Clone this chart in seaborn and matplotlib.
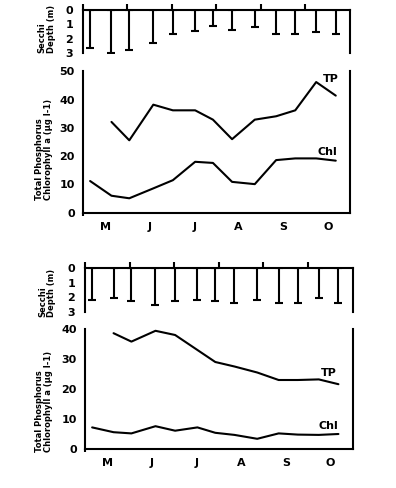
import numpy as np
import pandas as pd
import matplotlib
matplotlib.use("Agg")
import matplotlib.pyplot as plt
import seaborn as sns

# ---------------- data ----------------
months = ["M", "J", "J", "A", "S", "O"]
# sampling dates expressed in months since 1 May
sample_month = [0.16, 0.64, 1.04, 1.58, 2.02, 2.52, 2.92, 3.35, 3.86, 4.34, 4.77, 5.24, 5.68]

# upper lake
secchi_1 = [2.67, 3.00, 2.79, 2.28, 1.70, 1.44, 1.12, 1.40, 1.16, 1.65, 1.70, 1.56, 1.70]
tp_1 = [32.1, 25.6, 38.2, 36.2, 36.2, 32.9, 26.0, 32.9, 34.1, 36.2, 46.2, 41.4]  # from 2nd sample
chl_1 = [11.2, 6.0, 5.1, 8.6, 11.5, 18.0, 17.6, 10.9, 10.1, 18.6, 19.2, 19.2, 18.4]

# lower lake
secchi_2 = [2.17, 2.01, 2.24, 2.51, 2.24, 2.17, 2.24, 2.39, 2.17, 2.39, 2.35, 2.06, 2.39]
tp_2 = [38.6, 35.8, 39.4, 38.0, 33.0, 29.0, 27.5, 25.5, 23.0, 23.0, 23.2, 21.6]  # from 2nd sample
chl_2 = [7.2, 5.6, 5.2, 7.6, 6.1, 7.2, 5.4, 4.7, 3.4, 5.2, 4.8, 4.7, 5.0]

secchi_ticks = [0, 1, 2, 3]
yticks_1 = [0, 10, 20, 30, 40, 50]
yticks_2 = [0, 10, 20, 30, 40]

# ---------------- style ----------------
sns.set_theme(style="ticks")
plt.rcParams["font.family"] = ["DejaVu Sans"]
plt.rcParams["font.weight"] = "bold"
plt.rcParams["axes.linewidth"] = 1.5
plt.rcParams["axes.edgecolor"] = "black"
plt.rcParams["text.color"] = "black"
plt.rcParams["axes.labelcolor"] = "black"
plt.rcParams["xtick.color"] = "black"
plt.rcParams["ytick.color"] = "black"

W, H = 396, 488
fig = plt.figure(figsize=(W / 100, H / 100), dpi=100)
fig.patch.set_facecolor("white")

LW = 1.5
TICKFS = 8
LABFS = 6


def frac_rect(x0, x1, ytop, ybot):
    return [x0 / W, 1 - ybot / H, (x1 - x0) / W, (ybot - ytop) / H]


def panel(rect_s, rect_m, secchi, tp, chl, yticks, tp_pos, chl_pos,
          lab_x, lab_s_y, lab_m_y):
    n = len(sample_month)
    # ---- Secchi panel ----
    axs = fig.add_axes(rect_s)
    axs.errorbar(sample_month, np.zeros(n), yerr=[np.zeros(n), secchi],
                 fmt="none", ecolor="black", elinewidth=LW, capsize=2.8,
                 capthick=LW)
    axs.set_xlim(0, 6)
    axs.set_ylim(3, 0)
    axs.set_facecolor("white")
    axs.spines["bottom"].set_visible(False)
    for s in ("top", "left", "right"):
        axs.spines[s].set_visible(True)
        axs.spines[s].set_linewidth(LW)
        axs.spines[s].set_color("black")
    axs.xaxis.set_ticks_position("top")
    axs.set_xticks([0, 1, 2, 3, 4, 5])
    axs.tick_params(axis="x", which="major", direction="out", length=4.5,
                    width=LW, labeltop=False, labelbottom=False, top=True,
                    bottom=False, color="black")
    axs.set_yticks(secchi_ticks)
    axs.set_yticklabels([str(v) for v in secchi_ticks], fontsize=TICKFS,
                        fontweight="bold", color="black")
    axs.set_yticks([0], minor=True)
    axs.tick_params(axis="y", which="major", length=0, pad=7, left=True)
    axs.tick_params(axis="y", which="minor", length=4.5, width=LW,
                    direction="out", left=True, color="black")
    axs.grid(False)

    # ---- TP / Chl panel ----
    axm = fig.add_axes(rect_m)
    axm.set_facecolor("white")
    sns.lineplot(x=sample_month[1:], y=tp, ax=axm, color="black", lw=LW)
    sns.lineplot(x=sample_month, y=chl, ax=axm, color="black", lw=LW)
    axm.set_xlim(0, 6)
    axm.set_ylim(0, yticks[-1])
    axm.spines["top"].set_visible(False)
    for s in ("bottom", "left", "right"):
        axm.spines[s].set_visible(True)
        axm.spines[s].set_linewidth(LW)
        axm.spines[s].set_color("black")
    axm.set_xticks([i + 0.5 for i in range(6)])
    axm.set_xticklabels(months, fontsize=TICKFS, fontweight="bold",
                        color="black")
    axm.set_xticks([0], minor=True)
    axm.tick_params(axis="x", which="major", length=0, pad=6.5)
    axm.tick_params(axis="x", which="minor", length=2.5, width=LW,
                    direction="out", bottom=True, color="black")
    axm.set_yticks(yticks)
    axm.set_yticklabels([str(v) for v in yticks], fontsize=TICKFS,
                        fontweight="bold", color="black")
    axm.set_yticks([0], minor=True)
    axm.tick_params(axis="y", which="major", length=0, pad=6)
    axm.tick_params(axis="y", which="minor", length=3.6, width=LW,
                    direction="out", left=True, color="black")
    axm.set_xlabel("")
    axm.set_ylabel("")
    axm.grid(False)

    axm.text(tp_pos[0], tp_pos[1], "TP", fontsize=TICKFS, fontweight="bold",
             ha="center", va="center", color="black")
    axm.text(chl_pos[0], chl_pos[1], "Chl", fontsize=TICKFS, fontweight="bold",
             ha="center", va="center", color="black")

    fig.text(lab_x[0] / W, 1 - lab_s_y / H, "Secchi\nDepth (m)", rotation=90,
             ha="center", va="bottom", multialignment="left",
             fontsize=LABFS, fontweight="bold", linespacing=1.0, color="black")
    fig.text(lab_x[1] / W, 1 - lab_m_y / H,
             "Total Phosphorus\nChlorophyll a (µg l-1)", rotation=90,
             ha="center", va="bottom", multialignment="left",
             fontsize=LABFS, fontweight="bold", linespacing=1.0, color="black")


panel(frac_rect(83, 350, 10, 53), frac_rect(83, 350, 71.3, 212.7),
      secchi_1, tp_1, chl_1, yticks_1, (5.58, 47.2), (5.49, 21.3),
      (46.5, 44), 53, 200)
panel(frac_rect(85, 352.7, 267.7, 312.3), frac_rect(85, 352.7, 329, 449),
      secchi_2, tp_2, chl_2, yticks_2, (5.47, 25.5), (5.45, 7.7),
      (47.5, 44), 317, 452)

fig.savefig("out.png", dpi=100, facecolor="white")
